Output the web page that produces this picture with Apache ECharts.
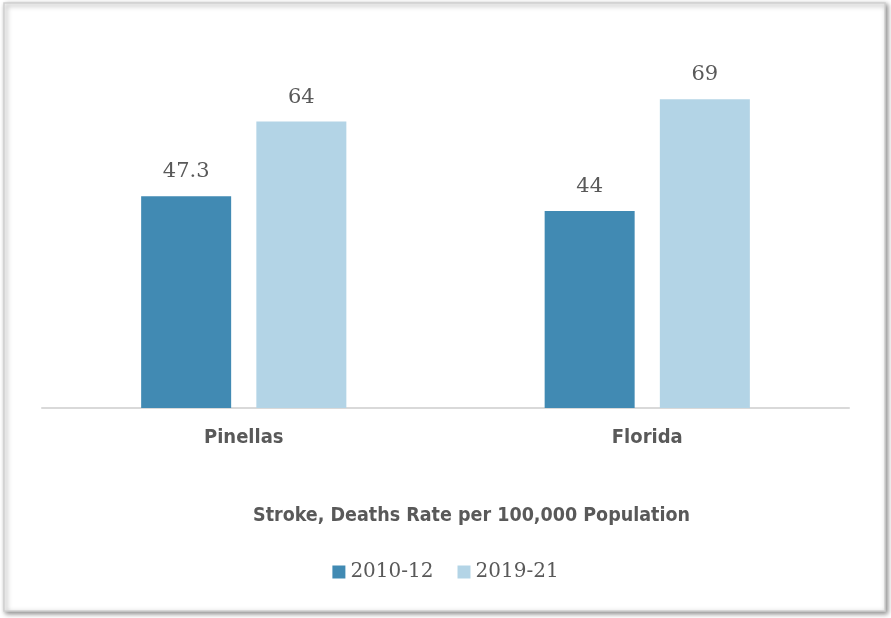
<!DOCTYPE html>
<html>
<head>
<meta charset="utf-8">
<script src="https://cdn.jsdelivr.net/npm/echarts@6/dist/echarts.min.js"></script>
<style>
html,body{margin:0;padding:0;background:#fff;}
#main{width:891px;height:618px;}
</style>
</head>
<body>
<div id="main"></div>
<script>
const categories = ['Pinellas', 'Florida'];
const seriesNames = ['2010-12', '2019-21'];
const values2010 = [47.3, 44];
const values2019 = [64, 69];
const chartTitle = 'Stroke, Deaths Rate per 100,000 Population';

const chart = echarts.init(document.getElementById('main'));
const serif = 'DejaVu Serif';
const sans = '"DejaVu Sans Condensed", Roboto, sans-serif';
const labelStyle = {show: true, position: 'top', distance: 14, color: '#595959', fontFamily: serif, fontSize: 21};
chart.setOption({
  animation: false,
  graphic: [{
    type: 'rect', z: -10, silent: true,
    shape: {x: 4, y: 3, width: 881, height: 608},
    style: {fill: '#fff', stroke: '#cfcfcf', lineWidth: 1.5, shadowBlur: 5, shadowOffsetX: 2, shadowOffsetY: 2, shadowColor: 'rgba(0,0,0,0.45)'}
  }],
  title: {
    text: chartTitle, left: 248, top: 501,
    textStyle: {fontFamily: sans, fontSize: 19.5, fontWeight: 'bold', color: '#595959'}
  },
  legend: {
    data: seriesNames, top: 557, left: 'center',
    itemWidth: 13, itemHeight: 13, itemGap: 24, icon: 'rect',
    textStyle: {fontFamily: serif, fontSize: 20, color: '#595959'}
  },
  grid: {left: 42, right: 42, top: 50, bottom: 210},
  xAxis: {
    type: 'category', data: categories,
    axisLine: {lineStyle: {color: '#d9d9d9', width: 2}},
    axisTick: {show: false},
    axisLabel: {margin: 20, fontFamily: sans, fontSize: 20, fontWeight: 'bold', color: '#595959'}
  },
  yAxis: {
    type: 'value', min: 0, max: 80, interval: 10,
    show: false
  },
  series: [
    {name: seriesNames[0], type: 'bar', data: values2010, barWidth: 90, barGap: '28%',
     itemStyle: {color: '#418AB3'}, label: labelStyle},
    {name: seriesNames[1], type: 'bar', data: values2019, barWidth: 90,
     itemStyle: {color: '#B3D4E6'}, label: labelStyle}
  ]
});
</script>
</body>
</html>
